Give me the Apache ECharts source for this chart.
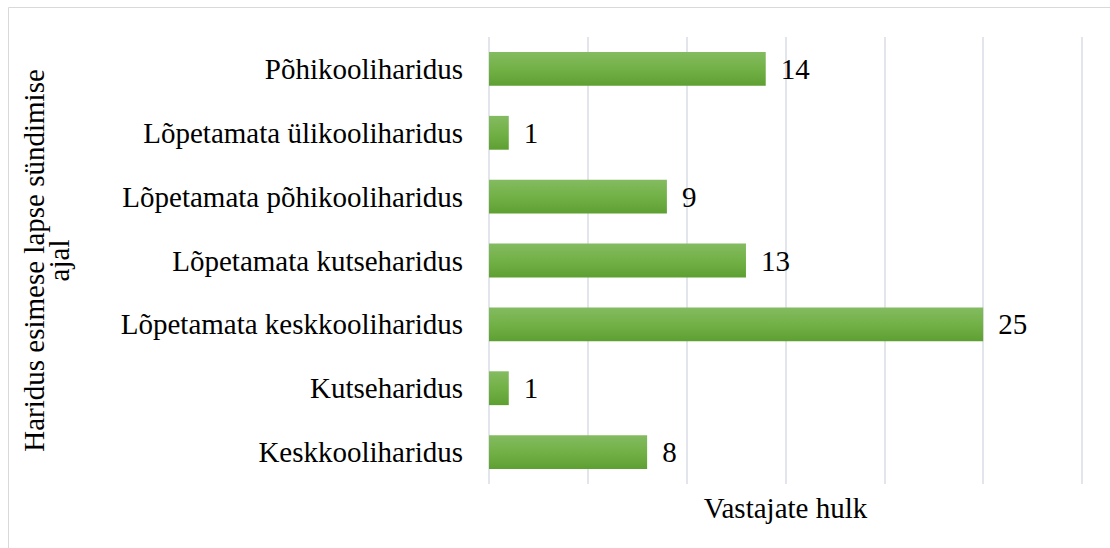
<!DOCTYPE html>
<html>
<head>
<meta charset="utf-8">
<script src="https://cdn.jsdelivr.net/npm/echarts@6/dist/echarts.min.js"></script>
<style>
  html, body { margin: 0; padding: 0; background: #fff; }
  #chart { width: 1110px; height: 548px; }
</style>
</head>
<body>
<div id="chart"></div>
<script>
// categories bottom to top, as echarts draws a category y axis
const categories = [
  'Keskkooliharidus',
  'Kutseharidus',
  'Lõpetamata keskkooliharidus',
  'Lõpetamata kutseharidus',
  'Lõpetamata põhikooliharidus',
  'Lõpetamata ülikooliharidus',
  'Põhikooliharidus'
];
const counts = [8, 1, 25, 13, 9, 1, 14];
const xName = 'Vastajate hulk';
const yName = 'Haridus esimese lapse sündimise\najal';

const font = '"Liberation Serif", "Times New Roman", serif';

const chart = echarts.init(document.getElementById('chart'), null, { renderer: 'svg' });

const option = {
  backgroundColor: '#fff',
  animation: false,
  graphic: [{
    type: 'rect',
    shape: { x: 8.5, y: 7.5, width: 1200, height: 600 },
    style: { fill: 'none', stroke: '#d9d9d9', lineWidth: 1 },
    silent: true
  }],
  grid: { left: 489, right: 28, top: 37, bottom: 64 },
  xAxis: {
    type: 'value',
    min: 0,
    max: 30,
    interval: 5,
    name: xName,
    nameLocation: 'middle',
    nameGap: 9,
    nameTextStyle: { fontFamily: font, fontSize: 29, color: '#000', verticalAlign: 'top' },
    axisLine: { show: false },
    axisTick: { show: false },
    axisLabel: { show: false },
    splitLine: { lineStyle: { color: '#d9dde4', width: 1.5 } }
  },
  yAxis: {
    type: 'category',
    data: categories,
    name: yName,
    nameLocation: 'middle',
    nameRotate: 90,
    nameGap: 418,
    nameTextStyle: { fontFamily: font, fontSize: 29, color: '#000', lineHeight: 25, align: 'center' },
    axisLine: { show: false },
    axisTick: { show: false },
    axisLabel: { fontFamily: font, fontSize: 29, color: '#000', margin: 26 },
    splitLine: { show: false }
  },
  series: [{
    type: 'bar',
    data: counts,
    barCategoryGap: '47%',
    itemStyle: {
      color: new echarts.graphic.LinearGradient(0, 0, 0, 1, [
        { offset: 0, color: '#84bb61' },
        { offset: 0.5, color: '#72b146' },
        { offset: 1, color: '#5e9f32' }
      ])
    },
    label: {
      show: true,
      position: 'right',
      distance: 15,
      fontFamily: font,
      fontSize: 29,
      color: '#000'
    }
  }]
};

chart.setOption(option);
</script>
</body>
</html>
